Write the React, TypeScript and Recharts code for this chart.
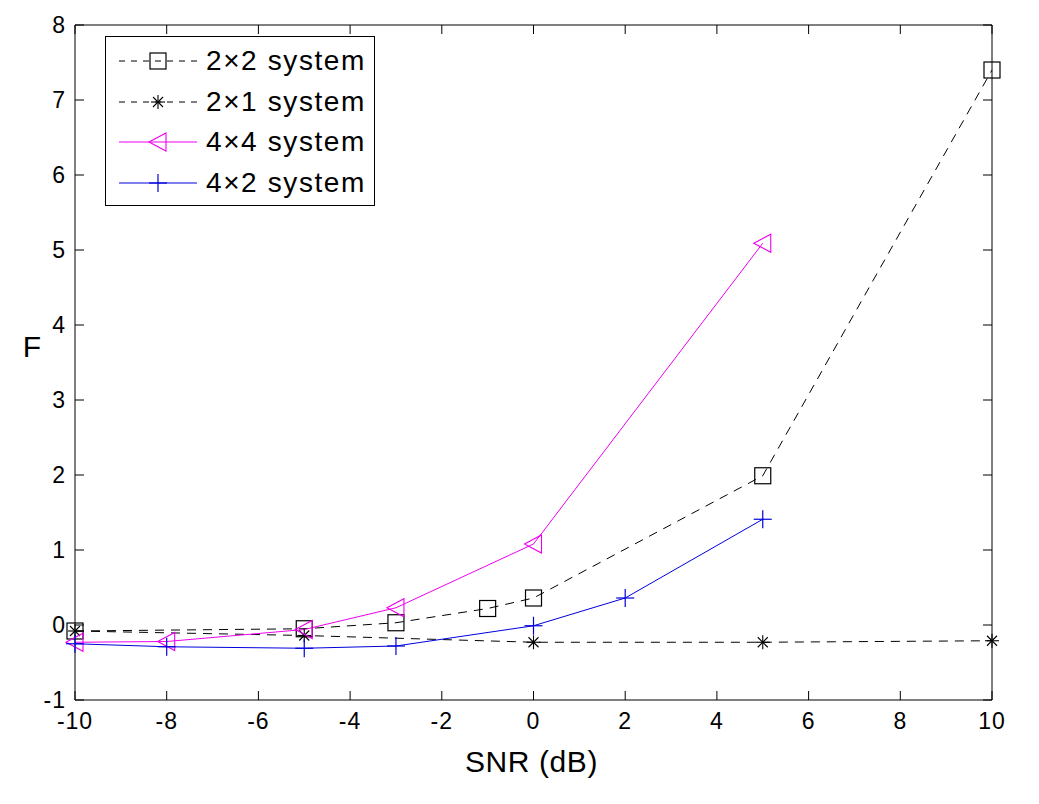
import React from 'react';
import { LineChart, Line, XAxis, YAxis, ReferenceArea } from 'recharts';

// ---- data ----
const snr22 = [-10, -5, -3, -1, 0, 5, 10];
const f22 = [-0.08, -0.05, 0.03, 0.22, 0.36, 1.99, 7.4];
const snr21 = [-10, -5, 0, 5, 10];
const f21 = [-0.08, -0.14, -0.23, -0.23, -0.21];
const snr44 = [-10, -8, -5, -3, 0, 5];
const f44 = [-0.23, -0.22, -0.06, 0.23, 1.08, 5.09];
const snr42 = [-10, -8, -5, -3, 0, 2, 5];
const f42 = [-0.25, -0.29, -0.31, -0.28, -0.01, 0.36, 1.41];

const xTicks = [-10, -8, -6, -4, -2, 0, 2, 4, 6, 8, 10];
const yTicks = [-1, 0, 1, 2, 3, 4, 5, 6, 7, 8];
const seriesNames = ['2×2 system', '2×1 system', '4×4 system', '4×2 system'];

const toRows = (xs: number[], ys: number[]) => xs.map((x, i) => ({ x, y: ys[i] }));

// ---- layout / style ----
const FONT = '"Liberation Sans", Arial, sans-serif';
const W = 1039;
const H = 804;
const PL = 75;
const PR = 992;
const PT = 25;
const PB = 700;
const TICK = 9;

type Shape = 'square' | 'star' | 'tri' | 'plus';

const Marker = ({ shape, cx, cy, color }: { shape: Shape; cx: number; cy: number; color: string }) => {
  if (shape === 'square') {
    return <rect x={cx - 8} y={cy - 8} width={16} height={16} fill="none" stroke={color} strokeWidth={1.2} />;
  }
  if (shape === 'star') {
    return (
      <g stroke={color} strokeWidth={1.1}>
        <line x1={cx} y1={cy - 7} x2={cx} y2={cy + 7} />
        <line x1={cx - 7} y1={cy} x2={cx + 7} y2={cy} />
        <line x1={cx - 5} y1={cy - 5} x2={cx + 5} y2={cy + 5} />
        <line x1={cx - 5} y1={cy + 5} x2={cx + 5} y2={cy - 5} />
      </g>
    );
  }
  if (shape === 'tri') {
    return (
      <polygon
        points={`${cx - 9},${cy} ${cx + 8},${cy - 9} ${cx + 8},${cy + 9}`}
        fill="none"
        stroke={color}
        strokeWidth={1.1}
      />
    );
  }
  return (
    <g stroke={color} strokeWidth={1.2}>
      <line x1={cx} y1={cy - 9} x2={cx} y2={cy + 9} />
      <line x1={cx - 9} y1={cy} x2={cx + 9} y2={cy} />
    </g>
  );
};

const series = [
  { name: seriesNames[0], data: toRows(snr22, f22), color: '#000000', dash: '9 7', shape: 'square' as Shape },
  { name: seriesNames[1], data: toRows(snr21, f21), color: '#000000', dash: '9 7', shape: 'star' as Shape },
  { name: seriesNames[2], data: toRows(snr44, f44), color: '#ee00ee', dash: undefined, shape: 'tri' as Shape },
  { name: seriesNames[3], data: toRows(snr42, f42), color: '#0000dd', dash: undefined, shape: 'plus' as Shape },
];

const XTick = (props: any) => {
  const { x, payload } = props;
  return (
    <g>
      <line x1={x} x2={x} y1={PB} y2={PB - TICK} stroke="#000" />
      <line x1={x} x2={x} y1={PT} y2={PT + TICK} stroke="#000" />
      <text x={x} y={729} textAnchor="middle" fontFamily={FONT} fontSize={23} letterSpacing={1} fill="#000">
        {payload.value}
      </text>
    </g>
  );
};

const YTick = (props: any) => {
  const { y, payload } = props;
  return (
    <g>
      <line x1={PL} x2={PL + TICK} y1={y} y2={y} stroke="#000" />
      <line x1={PR} x2={PR - TICK} y1={y} y2={y} stroke="#000" />
      <text x={66} y={y + 8} textAnchor="end" fontFamily={FONT} fontSize={23} letterSpacing={1} fill="#000">
        {payload.value}
      </text>
    </g>
  );
};

const LegendBox = () => (
  <div
    style={{
      position: 'absolute',
      left: 105,
      top: 36,
      width: 270,
      height: 170,
      boxSizing: 'border-box',
      border: '1px solid #000',
      background: '#fff',
      paddingTop: 4,
    }}
  >
    {series.map((s) => (
      <div key={s.name} style={{ height: 40.5, display: 'flex', alignItems: 'center' }}>
        <svg width={100} height={40} style={{ display: 'block' }}>
          <line x1={13} x2={91} y1={20} y2={20} stroke={s.color} strokeWidth={1} strokeDasharray={s.dash ? '6 6' : undefined} />
          <Marker shape={s.shape} cx={52} cy={20} color={s.color} />
        </svg>
        <span style={{ fontFamily: FONT, fontSize: 28, letterSpacing: 1.6, color: '#000', lineHeight: '40px' }}>{s.name}</span>
      </div>
    ))}
  </div>
);

export default function App() {
  return (
    <div style={{ position: 'absolute', left: 0, top: 0, width: W, height: H, background: '#fff' }}>
      <LineChart width={W} height={H} margin={{ top: PT, right: W - PR, bottom: 0, left: 0 }}>
        <XAxis
          type="number"
          dataKey="x"
          domain={[-10, 10]}
          ticks={xTicks}
          height={H - PB}
          axisLine={false}
          tickLine={false}
          tick={<XTick />}
          interval={0}
          label={(p: any) => {
            const vb = p.viewBox || { x: PL, width: PR - PL, y: PB };
            return (
              <text x={vb.x + vb.width / 2 - 2} y={772} textAnchor="middle" fontFamily={FONT} fontSize={30} letterSpacing={0.6} fill="#000">
                SNR (dB)
              </text>
            );
          }}
        />
        <YAxis
          type="number"
          domain={[-1, 8]}
          ticks={yTicks}
          width={PL}
          axisLine={false}
          tickLine={false}
          tick={<YTick />}
          interval={0}
          label={() => (
            <text x={32} y={357} textAnchor="middle" fontFamily={FONT} fontSize={30} fill="#000">
              F
            </text>
          )}
        />
        <ReferenceArea x1={-10} x2={10} y1={-1} y2={8} fill="none" fillOpacity={0} stroke="#000" strokeWidth={1} ifOverflow="visible" />
        {series.map((s) => (
          <Line
            key={s.name}
            data={s.data}
            dataKey="y"
            name={s.name}
            type="linear"
            stroke={s.color}
            strokeWidth={1}
            strokeDasharray={s.dash}
            isAnimationActive={false}
            dot={(p: any) => <Marker key={`${s.name}-${p.index}`} shape={s.shape} cx={p.cx} cy={p.cy} color={s.color} />}
            activeDot={false}
          />
        ))}
      </LineChart>
      <LegendBox />
    </div>
  );
}
